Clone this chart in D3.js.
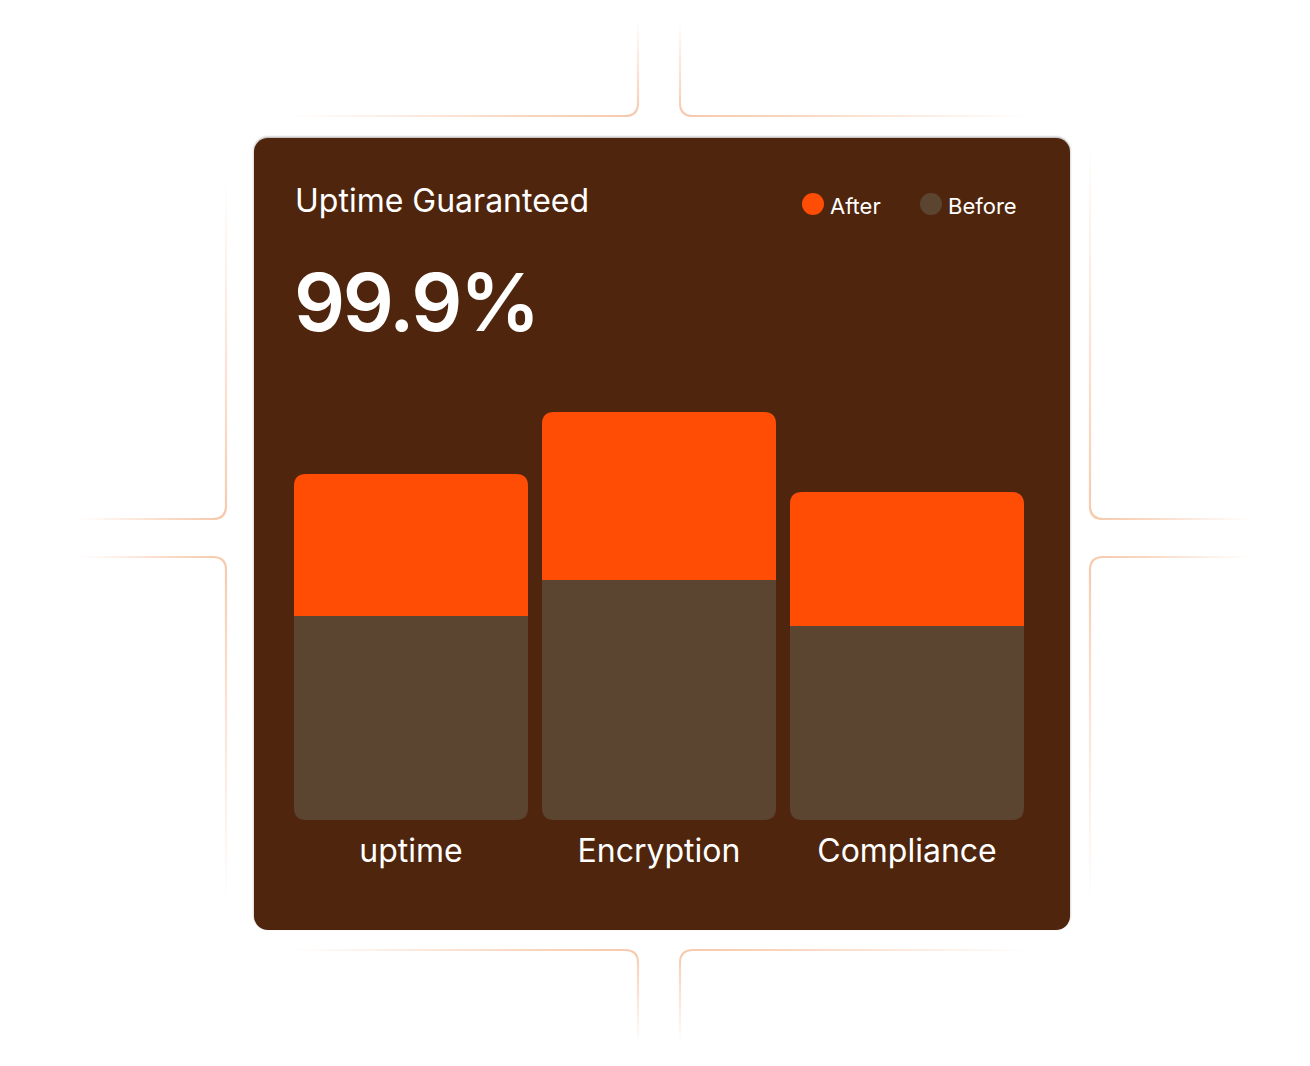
<!DOCTYPE html>
<html><head><meta charset="utf-8">
<script src="https://cdn.jsdelivr.net/npm/d3@7"></script>
<style>html,body{margin:0;padding:0;background:#fff;}svg{display:block;font-family:Inter,"Noto Sans",sans-serif;}</style>
</head><body>
<svg id="chart" width="1310" height="1066"></svg>
<script>
const categories = ["uptime", "Encryption", "Compliance"];
const beforeValues = [51, 60, 48.5];
const afterValues = [35.5, 42, 33.5];
const seriesNames = ["After", "Before"];
const titleText = "Uptime Guaranteed";
const headlineText = "99.9%";

const COLORS = {card:"#4F250A", after:"#FF4D05", before:"#5C4530", text:"#FFFFFF", deco:"#F5C3A2"};
const svg = d3.select("#chart");
const defs = svg.append("defs");

// card shadow
const f = defs.append("filter").attr("id","sh").attr("x","-5%").attr("y","-5%").attr("width","110%").attr("height","110%");
f.append("feDropShadow").attr("dx",0).attr("dy",-1).attr("stdDeviation",1.2).attr("flood-color","#000").attr("flood-opacity",0.35);

// decorative lines
const decos = [
  {cx:638, cy:116, hx:290, vy:20},
  {cx:680, cy:116, hx:1030, vy:20},
  {cx:226, cy:519, hx:80, vy:180},
  {cx:226, cy:557, hx:80, vy:900},
  {cx:1090, cy:519, hx:1250, vy:140},
  {cx:1090, cy:557, hx:1250, vy:900},
  {cx:638, cy:950, hx:290, vy:1045},
  {cx:680, cy:950, hx:1030, vy:1045}
];
const R = 13;
decos.forEach((d,i)=>{
  const sx = Math.sign(d.cx - d.hx), sy = Math.sign(d.vy - d.cy);
  const g = defs.append("linearGradient").attr("id","dg"+i)
    .attr("x1", d.hx < d.cx ? 0 : 1).attr("y1", d.cy > d.vy ? 1 : 0)
    .attr("x2", d.cx > d.hx ? 1 : 0).attr("y2", d.vy > d.cy ? 1 : 0);
  [[0,0],[0.35,0.7],[0.5,0.9],[0.65,0.6],[1,0]].forEach(s=>g.append("stop").attr("offset",s[0]).attr("stop-color",COLORS.deco).attr("stop-opacity",s[1]));
  const p = d3.path();
  p.moveTo(d.hx, d.cy);
  p.lineTo(d.cx - sx*R, d.cy);
  p.quadraticCurveTo(d.cx, d.cy, d.cx, d.cy + sy*R);
  p.lineTo(d.cx, d.vy);
  svg.append("path").attr("d", p.toString()).attr("fill","none")
    .attr("stroke","url(#dg"+i+")").attr("stroke-width",2.2);
});

// card
const card = {x:254, y:138, w:816, h:792};
svg.append("rect").attr("x",card.x).attr("y",card.y).attr("width",card.w).attr("height",card.h)
  .attr("rx",14).attr("fill",COLORS.card).attr("filter","url(#sh)");

// title & headline
svg.append("text").attr("x",295).attr("y",212).attr("fill",COLORS.text)
  .attr("font-size",32).attr("font-weight",400).text(titleText);
svg.append("text").attr("x",294).attr("y",331).attr("fill",COLORS.text)
  .attr("font-size",80).attr("font-weight",600).attr("letter-spacing",-2.5).text(headlineText);

// legend
const legendX = [813, 931];
const legendColors = [COLORS.after, COLORS.before];
seriesNames.forEach((n,i)=>{
  svg.append("circle").attr("cx",legendX[i]).attr("cy",204).attr("r",11).attr("fill",legendColors[i]);
  svg.append("text").attr("x",legendX[i]+17).attr("y",214).attr("fill",COLORS.text)
    .attr("font-size",22).text(n);
});

// scales
const x = d3.scaleBand().domain(categories).range([294, 1024]).paddingInner(14/248).paddingOuter(0);
const y = d3.scaleLinear().domain([0, 102]).range([820, 412]);
const r = 12;

function roundedTop(x0, y0, w, h, rr){
  const p = d3.path();
  p.moveTo(x0, y0 + h); p.lineTo(x0, y0 + rr);
  p.quadraticCurveTo(x0, y0, x0 + rr, y0);
  p.lineTo(x0 + w - rr, y0);
  p.quadraticCurveTo(x0 + w, y0, x0 + w, y0 + rr);
  p.lineTo(x0 + w, y0 + h); p.closePath();
  return p.toString();
}
function roundedBottom(x0, y0, w, h, rr){
  const p = d3.path();
  p.moveTo(x0, y0); p.lineTo(x0 + w, y0);
  p.lineTo(x0 + w, y0 + h - rr);
  p.quadraticCurveTo(x0 + w, y0 + h, x0 + w - rr, y0 + h);
  p.lineTo(x0 + rr, y0 + h);
  p.quadraticCurveTo(x0, y0 + h, x0, y0 + h - rr);
  p.closePath();
  return p.toString();
}

const data = categories.map((c,i)=>({c, before:beforeValues[i], after:afterValues[i]}));
const g = svg.append("g");
g.selectAll("path.after").data(data).join("path").attr("class","after")
  .attr("fill",COLORS.after)
  .attr("d", d => roundedTop(x(d.c), y(d.before + d.after), x.bandwidth(), y(d.before) - y(d.before + d.after), r));
g.selectAll("path.before").data(data).join("path").attr("class","before")
  .attr("fill",COLORS.before)
  .attr("d", d => roundedBottom(x(d.c), y(d.before), x.bandwidth(), y(0) - y(d.before), r));

g.selectAll("text.lbl").data(data).join("text").attr("class","lbl")
  .attr("x", d => x(d.c) + x.bandwidth()/2).attr("y", 862)
  .attr("text-anchor","middle").attr("fill",COLORS.text).attr("font-size",32)
  .text(d => d.c);
</script>
</body></html>
